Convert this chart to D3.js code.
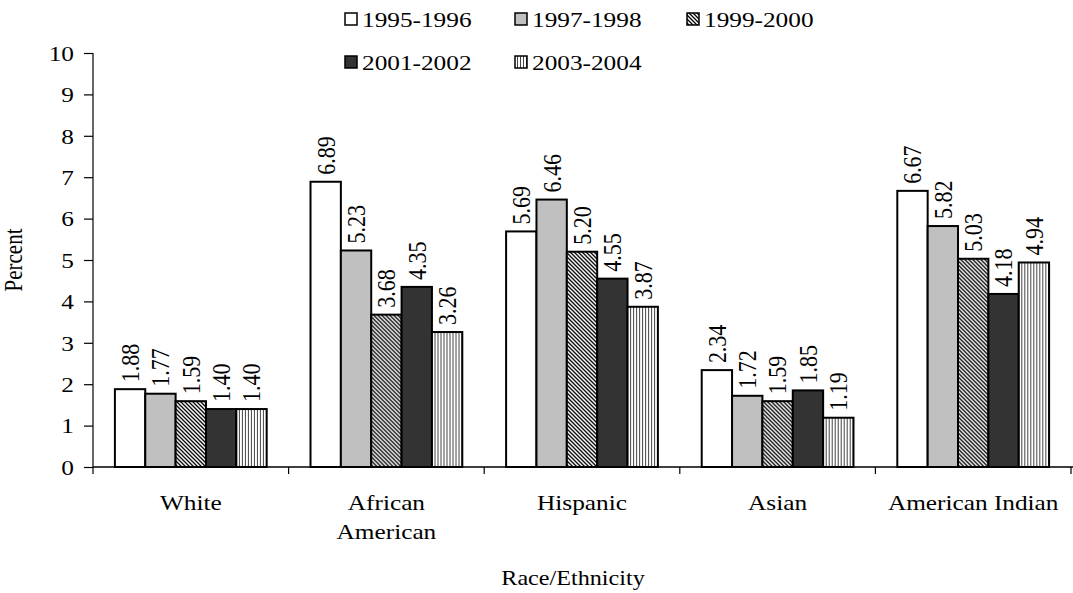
<!DOCTYPE html>
<html>
<head>
<meta charset="utf-8">
<script src="https://cdn.jsdelivr.net/npm/d3@7"></script>
<style>
  body { margin: 0; background: #fff; }
  svg { display: block; }
</style>
</head>
<body>
<svg id="chart" width="1073" height="593"></svg>
<script>
const categories = ["White", "African American", "Hispanic", "Asian", "American Indian"];
const categoryLines = [["White"], ["African", "American"], ["Hispanic"], ["Asian"], ["American Indian"]];
const series = ["1995-1996", "1997-1998", "1999-2000", "2001-2002", "2003-2004"];
const v1995 = [1.88, 6.89, 5.69, 2.34, 6.67];
const v1997 = [1.77, 5.23, 6.46, 1.72, 5.82];
const v1999 = [1.59, 3.68, 5.20, 1.59, 5.03];
const v2001 = [1.40, 4.35, 4.55, 1.85, 4.18];
const v2003 = [1.40, 3.26, 3.87, 1.19, 4.94];
const yTicks = [0, 1, 2, 3, 4, 5, 6, 7, 8, 9, 10];
const yTitle = "Percent";
const xTitle = "Race/Ethnicity";

const seriesValues = [v1995, v1997, v1999, v2001, v2003];
const fills = ["#ffffff", "#c0c0c0", "url(#diag)", "#333333", "url(#vert)"];
const SX = 1.15; // horizontal stretch of the original typography
const FONT = "'Liberation Serif', 'Times New Roman', Times, 'DejaVu Serif', serif";

const svg = d3.select("#chart");
const defs = svg.append("defs");
const diag = defs.append("pattern").attr("id", "diag").attr("patternUnits", "userSpaceOnUse")
  .attr("width", 4).attr("height", 4);
diag.append("rect").attr("width", 4).attr("height", 4).attr("fill", "#fff");
diag.append("path").attr("d", "M-1,-1 L5,5 M-1,3 L1,5 M3,-1 L5,1")
  .attr("stroke", "#000").attr("stroke-width", 1.3);
const vert = defs.append("pattern").attr("id", "vert").attr("patternUnits", "userSpaceOnUse")
  .attr("width", 3).attr("height", 3);
vert.append("rect").attr("width", 3).attr("height", 3).attr("fill", "#fff");
vert.append("rect").attr("x", 1).attr("width", 1).attr("height", 3).attr("fill", "#444");

const x0 = d3.scaleBand().domain(categories).range([93, 1071]).paddingInner(0.224).paddingOuter(0.112);
const x1 = d3.scaleBand().domain(series).range([0, x0.bandwidth()]);
const y = d3.scaleLinear().domain([0, 10]).range([467, 53]);

function stretchedText(sel, x, yy, rot) {
  return sel.append("text")
    .attr("font-family", FONT).attr("fill", "#000")
    .attr("transform", `translate(${x},${yy}) scale(${SX},1)` + (rot ? ` rotate(${rot})` : ""));
}

// Y axis
const yAxis = d3.axisLeft(y).tickValues(yTicks).tickSize(9).tickPadding(6).tickFormat(d3.format("d"));
const gy = svg.append("g").attr("transform", "translate(93,0)").call(yAxis);
gy.select(".domain").attr("stroke", "#000").attr("stroke-width", 1.2).attr("d", `M0,${y(10)}V${y(0)}`);
gy.selectAll(".tick line").attr("stroke", "#000").attr("stroke-width", 1.2);
gy.selectAll(".tick text").remove();
yTicks.forEach(t => {
  stretchedText(svg, 74, y(t), null).attr("text-anchor", "end").attr("dy", "0.35em")
    .attr("font-size", 22).text(t);
});

// Bars
const groups = svg.append("g").selectAll("g").data(categories).join("g")
  .attr("transform", d => `translate(${x0(d)},0)`);
series.forEach((s, si) => {
  groups.append("rect")
    .attr("x", x1(s))
    .attr("y", (d, ci) => y(seriesValues[si][ci]))
    .attr("width", x1.bandwidth())
    .attr("height", (d, ci) => y(0) - y(seriesValues[si][ci]))
    .attr("fill", fills[si])
    .attr("stroke", "#000").attr("stroke-width", 2);
});
// Value labels
categories.forEach((c, ci) => {
  series.forEach((s, si) => {
    const v = seriesValues[si][ci];
    stretchedText(svg, x0(c) + x1(s) + x1.bandwidth() / 2, y(v) - 7, -90)
      .attr("text-anchor", "start").attr("dy", "0.35em").attr("font-size", 22)
      .text(v.toFixed(2));
  });
});

// X axis
const step = x0.step();
const xStart = x0(categories[0]) - x0.paddingOuter() * step;
svg.append("line").attr("x1", 93).attr("x2", 1073).attr("y1", y(0)).attr("y2", y(0))
  .attr("stroke", "#000").attr("stroke-width", 1.5);
d3.range(categories.length + 1).forEach(i => {
  const xx = xStart + i * step;
  svg.append("line").attr("x1", xx).attr("x2", xx).attr("y1", y(0)).attr("y2", y(0) + 7)
    .attr("stroke", "#000").attr("stroke-width", 1.2);
});
categories.forEach((c, ci) => {
  categoryLines[ci].forEach((ln, li) => {
    stretchedText(svg, x0(c) + x0.bandwidth() / 2, 510 + li * 29, null)
      .attr("text-anchor", "middle").attr("font-size", 22).text(ln);
  });
});

// Axis titles
stretchedText(svg, 573, 585, null).attr("text-anchor", "middle").attr("font-size", 21).text(xTitle);
stretchedText(svg, 22, 260, -90).attr("text-anchor", "middle").attr("font-size", 21).text(yTitle);

// Legend
const legendX = [345, 515, 687];
const legendY = [19, 62];
series.forEach((s, si) => {
  const lx = legendX[si % 3], ly = legendY[Math.floor(si / 3)];
  svg.append("rect").attr("x", lx).attr("y", ly - 6).attr("width", 12).attr("height", 12)
    .attr("fill", fills[si]).attr("stroke", "#000").attr("stroke-width", 1.5);
  stretchedText(svg, lx + 17, ly, null).attr("dy", "0.35em").attr("font-size", 22).text(s);
});
</script>
</body>
</html>
